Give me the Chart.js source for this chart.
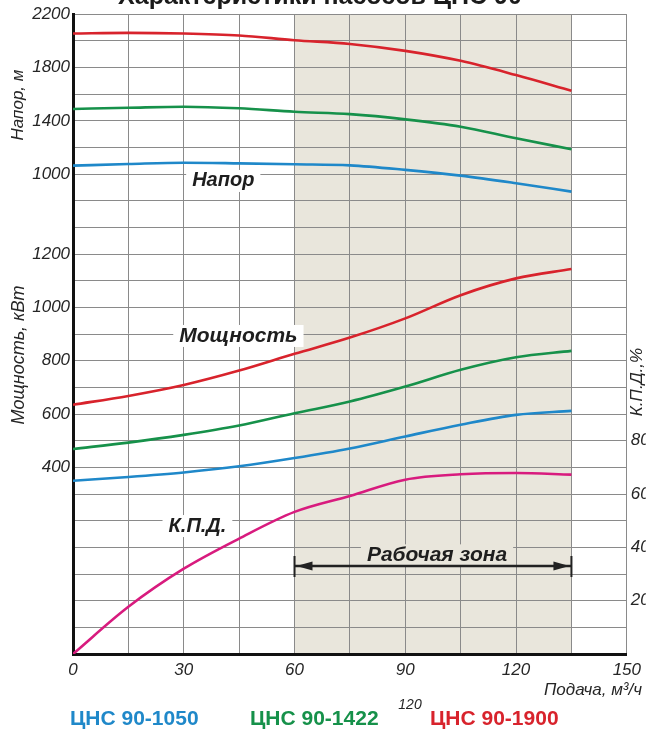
<!DOCTYPE html>
<html><head><meta charset="utf-8">
<script src="https://cdn.jsdelivr.net/npm/chart.js@4.4.1/dist/chart.umd.min.js"></script>
<style>html,body{margin:0;padding:0;background:#fff;}#wrap{width:647px;height:730px;}</style>
</head><body><div id="wrap"><canvas id="c" width="647" height="730"></canvas></div>
<script>
// ---- data ----
const flow       = [0, 15, 30, 45, 60, 75, 90, 105, 120, 135];
const head1050   = [1064, 1076, 1086, 1081, 1074, 1066, 1032, 989, 932, 869];
const head1422   = [1489, 1498, 1506, 1494, 1468, 1450, 1411, 1356, 1269, 1187];
const head1900   = [2055, 2060, 2055, 2040, 2005, 1977, 1925, 1850, 1743, 1625];
const power1050  = [350, 364, 381, 404, 435, 471, 516, 560, 597, 612];
const power1422  = [469, 493, 522, 557, 603, 647, 703, 766, 813, 837];
const power1900  = [635, 668, 709, 763, 826, 887, 959, 1046, 1109, 1144];
const efficiency = [0, 17.7, 32, 43.3, 53.3, 59.3, 65.4, 67.4, 67.9, 67.3];

const flowTicks  = [0, 30, 60, 90, 120, 150];
const headTicks  = [1000, 1400, 1800, 2200];
const powerTicks = [400, 600, 800, 1000, 1200];
const effTicks   = [20, 40, 60, 80];
const workZone   = [60, 135];
const pumpNames  = ['ЦНС 90-1050', 'ЦНС 90-1422', 'ЦНС 90-1900'];

// ---- styling ----
const C_BLUE = '#1f88c9', C_GREEN = '#16914a', C_RED = '#d8232c', C_MAG = '#d81b7e';
const GRID = '#8a8a8a', TXT = '#262626';
const pts = arr => flow.map((q, i) => ({x: q, y: arr[i]}));
const ds = (label, arr, color, axis) => ({
  label, data: pts(arr), borderColor: color, borderWidth: 2.6, pointRadius: 0,
  fill: false, cubicInterpolationMode: 'monotone', yAxisID: axis
});

const annot = {
  id: 'annot',
  beforeDraw(chart) {
    const {ctx, chartArea: a, scales: {x}} = chart;
    const x0 = x.getPixelForValue(workZone[0]), x1 = x.getPixelForValue(workZone[1]);
    ctx.save();
    ctx.fillStyle = '#e9e6dc';
    ctx.fillRect(x0, a.top, x1 - x0, a.bottom - a.top);
    ctx.restore();
  },
  afterDraw(chart) {
    const {ctx, scales} = chart;
    const x = scales.x;
    ctx.save();
    const knock = (text, cx, cy, font, bg) => {
      ctx.font = font;
      const w = ctx.measureText(text).width;
      ctx.fillStyle = bg;
      ctx.fillRect(cx - w / 2 - 6, cy - 11, w + 12, 22);
      ctx.fillStyle = '#1e1e1e';
      ctx.textAlign = 'center'; ctx.textBaseline = 'middle';
      ctx.fillText(text, cx, cy);
    };
    const F = 'italic bold 20px "Liberation Sans", Arial, sans-serif';
    const F21 = 'italic bold 21px "Liberation Sans", Arial, sans-serif';
    knock('Напор', x.getPixelForValue(40.7), scales.yHead.getPixelForValue(949), F, '#ffffff');
    knock('Мощность', x.getPixelForValue(44.8), scales.yPower.getPixelForValue(893), F21, '#ffffff');
    knock('К.П.Д.', x.getPixelForValue(33.7), scales.yEff.getPixelForValue(48), F, '#ffffff');
    knock('Рабочая зона', x.getPixelForValue(98.6), scales.yEff.getPixelForValue(37), F21, '#e9e6dc');

    // working-zone arrow
    const xa = x.getPixelForValue(workZone[0]), xb = x.getPixelForValue(workZone[1]);
    const ya = scales.yEff.getPixelForValue(33);
    ctx.strokeStyle = '#222'; ctx.fillStyle = '#222';
    ctx.lineWidth = 2.4;
    ctx.beginPath(); ctx.moveTo(xa, ya); ctx.lineTo(xb, ya); ctx.stroke();
    ctx.lineWidth = 2;
    ctx.beginPath(); ctx.moveTo(xa, ya - 10); ctx.lineTo(xa, ya + 11);
    ctx.moveTo(xb, ya - 10); ctx.lineTo(xb, ya + 11); ctx.stroke();
    ctx.beginPath(); ctx.moveTo(xa + 2, ya); ctx.lineTo(xa + 18, ya - 4.5); ctx.lineTo(xa + 18, ya + 4.5); ctx.closePath(); ctx.fill();
    ctx.beginPath(); ctx.moveTo(xb - 2, ya); ctx.lineTo(xb - 18, ya - 4.5); ctx.lineTo(xb - 18, ya + 4.5); ctx.closePath(); ctx.fill();

    // axis titles
    const vtext = (text, px, py, font) => {
      ctx.save(); ctx.translate(px, py); ctx.rotate(-Math.PI / 2);
      ctx.font = font; ctx.fillStyle = TXT; ctx.textAlign = 'center'; ctx.textBaseline = 'middle';
      ctx.fillText(text, 0, 0); ctx.restore();
    };
    const FA = 'italic 17px "Liberation Sans", Arial, sans-serif';
    vtext('Напор, м', 18, 105, FA);
    vtext('Мощность, кВт', 19, 355, 'italic 18px "Liberation Sans", Arial, sans-serif');
    vtext('К.П.Д.,%', 637, 382, FA);

    ctx.font = FA; ctx.fillStyle = TXT; ctx.textAlign = 'right'; ctx.textBaseline = 'middle';
    ctx.fillText('Подача, м³/ч', 642, 690);

    ctx.font = 'italic 14px "Liberation Sans", Arial, sans-serif';
    ctx.textAlign = 'center';
    ctx.fillText('120', 410, 705);

    // title (cut off at top)
    ctx.font = 'bold 25px "Liberation Sans", Arial, sans-serif';
    ctx.fillStyle = '#1a1a1a'; ctx.textAlign = 'center'; ctx.textBaseline = 'alphabetic';
    ctx.fillText('Характеристики насосов ЦНС 90', 320, 4);

    // pump names
    ctx.font = 'bold 21px "Liberation Sans", Arial, sans-serif';
    ctx.textAlign = 'left'; ctx.textBaseline = 'middle';
    const cols = [C_BLUE, C_GREEN, C_RED], lx = [70, 250, 430];
    pumpNames.forEach((n, i) => { ctx.fillStyle = cols[i]; ctx.fillText(n, lx[i], 719); });
    ctx.restore();
  }
};

const tickFont = {family: '"Liberation Sans", Arial, sans-serif', size: 17, style: 'italic'};

new Chart(document.getElementById('c'), {
  type: 'line',
  data: {
    datasets: [
      ds('Напор ' + pumpNames[0], head1050, C_BLUE, 'yHead'),
      ds('Напор ' + pumpNames[1], head1422, C_GREEN, 'yHead'),
      ds('Напор ' + pumpNames[2], head1900, C_RED, 'yHead'),
      ds('Мощность ' + pumpNames[0], power1050, C_BLUE, 'yPower'),
      ds('Мощность ' + pumpNames[1], power1422, C_GREEN, 'yPower'),
      ds('Мощность ' + pumpNames[2], power1900, C_RED, 'yPower'),
      ds('К.П.Д.', efficiency, C_MAG, 'yEff')
    ]
  },
  options: {
    responsive: false, animation: false, devicePixelRatio: 1,
    layout: {padding: {top: 14, left: 0, right: 0, bottom: 0}},
    plugins: {legend: {display: false}, tooltip: {enabled: false}},
    scales: {
      x: {
        type: 'linear', min: 0, max: 150,
        ticks: {stepSize: 15, autoSkip: false, maxRotation: 0, padding: 6, color: TXT, font: tickFont,
                callback: v => flowTicks.includes(v) ? String(v) : ''},
        grid: {color: GRID, lineWidth: 1, drawTicks: false},
        border: {display: true, color: '#111', width: 3},
        afterFit: s => { s.height = 76; }
      },
      yHead: {
        type: 'linear', position: 'left', min: -2600, max: 2200,
        ticks: {stepSize: 200, autoSkip: false, padding: 3, color: TXT, font: tickFont,
                callback: v => headTicks.includes(v) ? String(v) : ''},
        grid: {color: GRID, lineWidth: 1, drawTicks: false},
        border: {display: true, color: '#111', width: 3},
        afterFit: s => { s.width = 73; }
      },
      yPower: {
        type: 'linear', position: {x: -0.8}, min: -300, max: 2100,
        ticks: {stepSize: 100, autoSkip: false, padding: 3, color: TXT, font: tickFont,
                callback: v => powerTicks.includes(v) ? String(v) : ''},
        grid: {display: false, drawTicks: false},
        border: {display: false}
      },
      yEff: {
        type: 'linear', position: 'right', min: 0, max: 240,
        ticks: {stepSize: 10, autoSkip: false, padding: 4, color: TXT, font: tickFont,
                callback: v => effTicks.includes(v) ? String(v) : ''},
        grid: {display: false, drawTicks: false},
        border: {display: false},
        afterFit: s => { s.width = 19; }
      }
    }
  },
  plugins: [annot]
});
</script>
</body></html>
